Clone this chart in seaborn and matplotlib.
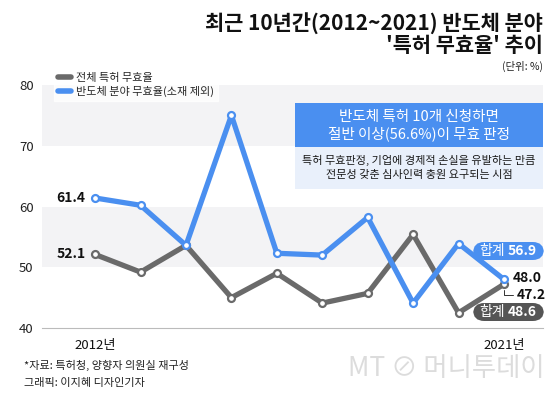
import matplotlib
matplotlib.use("Agg")
import matplotlib.pyplot as plt
import seaborn as sns
import pandas as pd
from matplotlib.patches import FancyBboxPatch, Rectangle
from matplotlib.lines import Line2D

# ==========================================
# DATA
# ==========================================

years = [2012, 2013, 2014, 2015, 2016, 2017, 2018, 2019, 2020, 2021]
total_rate = [52.1, 49.2, 53.6, 45.0, 49.0, 44.1, 45.7, 55.4, 42.5, 47.2]
semi_rate = [61.4, 60.2, 53.6, 75.0, 52.3, 52.0, 58.2, 44.1, 53.9, 48.0]
series_names = ["전체 특허 무효율", "반도체 분야 무효율(소재 제외)"]
y_ticks = [40, 50, 60, 70, 80]
x_labels = {2012: "2012년", 2021: "2021년"}
sum_total = 48.6
sum_semi = 56.9

GRAY = "#6a6a6a"
BLUE = "#4a8ff0"

df = pd.DataFrame({
    "year": years * 2,
    "rate": total_rate + semi_rate,
    "series": [series_names[0]] * len(years) + [series_names[1]] * len(years),
})

# ==========================================
# FIGURE
# ==========================================

sns.set_style("white")
plt.rcParams["font.family"] = ["Noto Sans CJK KR", "DejaVu Sans"]

W, H = 560, 393
fig = plt.figure(figsize=(W / 100, H / 100), dpi=100)


def px(x):
    return x / W


def py(y):
    return 1 - y / H


ax = fig.add_axes([px(42), py(328), px(543) - px(42), py(85) - py(328)])
ax.set_xlim(2010.83, 2021.86)
ax.set_ylim(40, 80)

# alternating bands
for lo, hi in [(50, 60), (70, 80)]:
    ax.axhspan(lo, hi, color="#f3f3f5", zorder=0, lw=0)

for name, vals, col in [(series_names[0], total_rate, GRAY), (series_names[1], semi_rate, BLUE)]:
    sub = df[df["series"] == name]
    sns.lineplot(data=sub, x="year", y="rate", ax=ax, color=col, linewidth=3.8,
                 marker="o", markersize=5, markerfacecolor="white",
                 markeredgecolor=col, markeredgewidth=1.6,
                 solid_capstyle="round", solid_joinstyle="round", zorder=3)

for s in ["top", "right", "left"]:
    ax.spines[s].set_visible(False)
ax.spines["bottom"].set_color("#bbbbbb")
ax.spines["bottom"].set_linewidth(0.8)

ax.set_yticks(y_ticks)
ax.set_yticklabels([str(t) for t in y_ticks], fontsize=9.5, color="#222222")
ax.tick_params(axis="y", length=0, pad=6)
ax.set_xticks(years)
ax.set_xticklabels([x_labels.get(y, "") for y in years], fontsize=9.5, color="#111111")
ax.tick_params(axis="x", length=4, color="#bbbbbb", width=0.8, pad=4, direction="out")
ax.set_xlabel("")
ax.set_ylabel("")
ax.grid(False)

# legend
handles = [Line2D([0], [0], color=GRAY, lw=4, solid_capstyle="round"),
           Line2D([0], [0], color=BLUE, lw=4, solid_capstyle="round")]
leg = fig.legend(handles, series_names, loc="upper left",
                 bbox_to_anchor=(px(48), py(63)), frameon=True, fontsize=8,
                 handlelength=1.2, handletextpad=0.4, labelspacing=0.25,
                 borderpad=0.4, fancybox=False)
leg.get_frame().set_edgecolor("white")
leg.get_frame().set_facecolor("white")

# endpoint labels
ax.annotate(f"{semi_rate[0]:.1f}", (years[0], semi_rate[0]), xytext=(-7, 0),
            textcoords="offset points", ha="right", va="center",
            fontsize=10, fontweight="bold", color="#111111")
ax.annotate(f"{total_rate[0]:.1f}", (years[0], total_rate[0]), xytext=(-7, 0),
            textcoords="offset points", ha="right", va="center",
            fontsize=10, fontweight="bold", color="#111111")
ax.annotate(f"{semi_rate[-1]:.1f}", (years[-1], semi_rate[-1]), xytext=(6, 1),
            textcoords="offset points", ha="left", va="center",
            fontsize=10, fontweight="bold", color="#111111")
ax.annotate(f"{total_rate[-1]:.1f}", (years[-1], total_rate[-1]), xytext=(9, -8),
            textcoords="offset points", ha="left", va="center",
            fontsize=10, fontweight="bold", color="#111111",
            arrowprops=dict(arrowstyle="-", color="#333333", lw=0.7,
                            connectionstyle="angle,angleA=0,angleB=90,rad=0",
                            shrinkA=0, shrinkB=4))

# sum pills
for val, col, ycen in [(sum_semi, BLUE, 251), (sum_total, "#555555", 312)]:
    pill = FancyBboxPatch((px(473), py(ycen + 9)), px(544) - px(473), 18 / H,
                          boxstyle="round,pad=0,rounding_size=0.02",
                          transform=fig.transFigure, facecolor=col, edgecolor="none",
                          mutation_aspect=W / H, zorder=5)
    fig.patches.append(pill)
    fig.text(px(505), py(ycen), "합계", ha="right", va="center",
             fontsize=10, color="white", zorder=6)
    fig.text(px(508), py(ycen), f"{val:.1f}", ha="left", va="center",
             fontsize=10, fontweight="bold", color="white", zorder=6)

# annotation box
fig.patches.append(Rectangle((px(295), py(147)), px(543) - px(295), (147 - 103) / H,
                             transform=fig.transFigure, facecolor=BLUE, edgecolor="none", zorder=4))
fig.patches.append(Rectangle((px(295), py(189)), px(543) - px(295), (189 - 147) / H,
                             transform=fig.transFigure, facecolor="#e9f0fb", edgecolor="none", zorder=4))
fig.text(px(419), py(117), "반도체 특허 10개 신청하면", ha="center", va="center",
         fontsize=10.5, color="white", zorder=6)
fig.text(px(419), py(134), "절반 이상(56.6%)이 무효 판정", ha="center", va="center",
         fontsize=10.5, color="white", zorder=6)
fig.text(px(419), py(160), "특허 무효판정, 기업에 경제적 손실을 유발하는 만큼", ha="center", va="center",
         fontsize=8, fontweight="medium", color="#1a1a1a", zorder=6)
fig.text(px(419), py(175), "전문성 갖춘 심사인력 충원 요구되는 시점", ha="center", va="center",
         fontsize=8, fontweight="medium", color="#1a1a1a", zorder=6)

# title
fig.text(px(543), py(24), "최근 10년간(2012~2021) 반도체 분야", ha="right", va="center",
         fontsize=15, fontweight="bold", color="#111111")
fig.text(px(543), py(46), "'특허 무효율' 추이", ha="right", va="center",
         fontsize=15, fontweight="bold", color="#111111")
fig.text(px(543), py(66), "(단위: %)", ha="right", va="center",
         fontsize=7.5, color="#222222")

# footer
fig.text(px(24), py(365), "*자료: 특허청, 양향자 의원실 재구성", ha="left", va="center",
         fontsize=8, color="#222222")
fig.text(px(24), py(383), "그래픽: 이지혜 디자인기자", ha="left", va="center",
         fontsize=8, color="#222222")
fig.text(px(545), py(369), "MT ⊘ 머니투데이", ha="right", va="center",
         fontsize=19, color="#dcdcdc", style="italic")

plt.savefig("out.png", dpi=100)
